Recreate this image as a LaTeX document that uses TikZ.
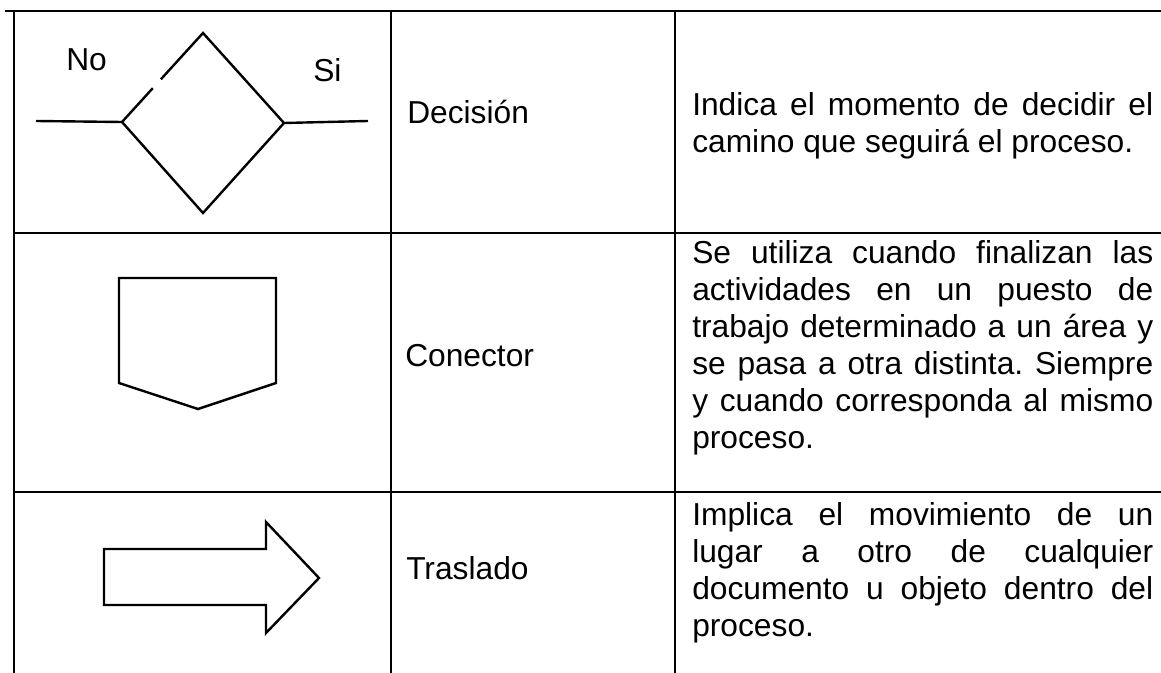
\documentclass[tikz,border=0pt]{standalone}
\usepackage{fontspec}
\setmainfont{Liberation Sans}
\usetikzlibrary{calc}
\frenchspacing
\hyphenpenalty=10000
\exhyphenpenalty=10000
\begin{document}
\begin{tikzpicture}[x=0.75pt,y=-0.75pt]
    \tikzset{tabline/.style = {line width=1.1pt}}
    \tikzset{symbol/.style = {line width=1.8pt, line join=miter}}
    \tikzset{txt/.style = {anchor=base west, inner sep=0pt, font=\fontsize{23.8pt}{27.75pt}\selectfont}}
    \tikzset{desc/.style = {txt, anchor=north west, text width=345.75pt, align=justify}}
    \useasboundingbox (0,0) rectangle (1161,673);
    % table
    \draw[tabline] (5,11) -- (1161,11);
    \draw[tabline] (14,233) -- (1161,233);
    \draw[tabline] (14,492) -- (1161,492);
    \draw[tabline] (14,11) -- (14,673);
    \draw[tabline] (391,11) -- (391,673);
    \draw[tabline] (675,11) -- (675,673);
    % decision
    \coordinate (dt) at (203,33);
    \coordinate (dl) at (122,122);
    \coordinate (dr) at (284,123);
    \coordinate (db) at (203,213);
    \coordinate (noend) at (36,121);
    \coordinate (siend) at (368,121);
    \draw[symbol] ($(dl)!0.48!(dt)$) -- (dt) -- (dr) -- (db) -- (dl) -- ($(dl)!0.38!(dt)$);
    \draw[symbol] (noend) -- (dl);
    \draw[symbol] (dr) -- (siend);
    \node[txt] (no) at (66,71) {No};
    \node[txt] (si) at (313,82) {Si};
    % conector
    \draw[symbol] (119,278) -- (276,278) -- (276,383) -- (198,409) -- (119,383) -- cycle;
    % traslado
    \draw[symbol] (104,549) -- (266,549) -- (266,522) -- (319,578) -- (266,633) -- (266,605) -- (104,605) -- cycle;
    % names
    \node[txt] (decision) at (407,124) {Decisión};
    \node[txt] (conector) at (405,367) {Conector};
    \node[txt] (traslado) at (406,580) {Traslado};
    % descriptions
    \node[desc] (ddecision) at (692,92) {Indica el momento de decidir el\linebreak camino que seguirá el proceso.};
    \node[desc] (dconector) at (692,240) {Se utiliza cuando finalizan las\linebreak actividades en un puesto de\linebreak trabajo determinado a un área y\linebreak se pasa a otra distinta. Siempre\linebreak y cuando corresponda al mismo\linebreak proceso.};
    \node[desc] (dtraslado) at (692,502) {Implica el movimiento de un\linebreak lugar a otro de cualquier\linebreak documento u objeto dentro del\linebreak proceso.};
\end{tikzpicture}
\end{document}
